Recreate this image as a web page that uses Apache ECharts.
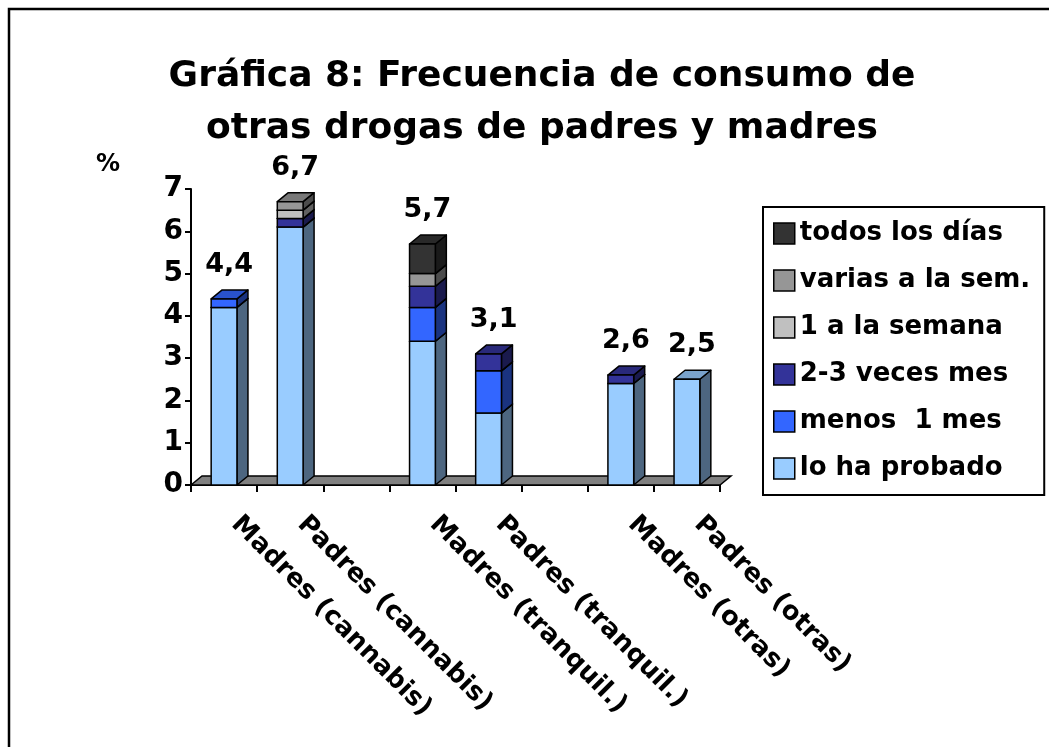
<!DOCTYPE html>
<html>
<head>
<meta charset="utf-8">
<script src="https://cdn.jsdelivr.net/npm/echarts@6/dist/echarts.min.js"></script>
<style>
  html, body { margin: 0; padding: 0; background: #fff; }
  #chart { width: 1049px; height: 747px; }
</style>
</head>
<body>
<div id="chart"></div>
<script>
const categories = [
  "Madres (cannabis)", "Padres (cannabis)", "",
  "Madres (tranquil.)", "Padres (tranquil.)", "",
  "Madres (otras)", "Padres (otras)"
];

// stacked from bottom to top
const loHaProbado = [4.2, 6.1, null, 3.4, 1.7, null, 2.4, 2.5];
const menos1Mes = [0.2, 0, null, 0.8, 1.0, null, 0, 0];
const dosTresVecesMes = [0, 0.2, null, 0.5, 0.4, null, 0.2, 0];
const unaSemana = [0, 0.2, null, 0, 0, null, 0, 0];
const variasSemana = [0, 0.2, null, 0.3, 0, null, 0, 0];
const todosLosDias = [0, 0, null, 0.7, 0, null, 0, 0];

const totals = [4.4, 6.7, null, 5.7, 3.1, null, 2.6, 2.5];
const yTicks = [0, 1, 2, 3, 4, 5, 6, 7];

const FONT = "DejaVu Sans";
const DX = 11, DY = 9;

const layers = [
  { name: "lo ha probado", data: loHaProbado, color: "#99ccff" },
  { name: "menos  1 mes", data: menos1Mes, color: "#3366ff" },
  { name: "2-3 veces mes", data: dosTresVecesMes, color: "#333399" },
  { name: "1 a la semana", data: unaSemana, color: "#c0c0c0" },
  { name: "varias a la sem.", data: variasSemana, color: "#969696" },
  { name: "todos los días", data: todosLosDias, color: "#333333" }
];

const shade = (hex, f) => {
  const n = parseInt(hex.slice(1), 16);
  const r = Math.round(((n >> 16) & 255) * f);
  const g = Math.round(((n >> 8) & 255) * f);
  const b = Math.round((n & 255) * f);
  return "rgb(" + r + "," + g + "," + b + ")";
};

const renderBar = (color) => (params, api) => {
  const p0 = api.coord([api.value(0), api.value(1)]);
  const p1 = api.coord([api.value(0), api.value(2)]);
  const w = api.size([1, 0])[0] * 0.39;
  const xl = p0[0] - w / 2, xr = p0[0] + w / 2;
  const stroke = { stroke: "#000", lineWidth: 1.5, lineJoin: "round" };
  return {
    type: "group",
    children: [
      { type: "polygon", shape: { points: [[xr, p0[1]], [xr + DX, p0[1] - DY], [xr + DX, p1[1] - DY], [xr, p1[1]]] },
        style: Object.assign({ fill: shade(color, 0.5) }, stroke) },
      { type: "polygon", shape: { points: [[xl, p1[1]], [xl + DX, p1[1] - DY], [xr + DX, p1[1] - DY], [xr, p1[1]]] },
        style: Object.assign({ fill: shade(color, 0.8) }, stroke) },
      { type: "rect", shape: { x: xl, y: p1[1], width: w, height: p0[1] - p1[1] },
        style: Object.assign({ fill: color }, stroke) }
    ]
  };
};

const series = [];

// floor of the 3D plot
series.push({
  name: "floor",
  type: "custom",
  z: 1,
  silent: true,
  data: [[0, 0]],
  renderItem: (params, api) => {
    const cs = params.coordSys;
    const yb = cs.y + cs.height;
    return {
      type: "polygon",
      shape: { points: [[cs.x, yb], [cs.x + DX, yb - DY], [cs.x + cs.width + DX, yb - DY], [cs.x + cs.width, yb]] },
      style: { fill: "#808080", stroke: "#000", lineWidth: 1.5 }
    };
  }
});

const base = categories.map(() => 0);
layers.forEach((layer) => {
  const items = [];
  layer.data.forEach((v, i) => {
    if (v) {
      items.push([i, base[i], base[i] + v]);
      base[i] += v;
    }
  });
  series.push({
    name: layer.name,
    type: "custom",
    z: 3,
    itemStyle: { color: layer.color },
    encode: { x: 0, y: [1, 2] },
    data: items,
    renderItem: renderBar(layer.color)
  });
});

series.push({
  name: "totals",
  type: "custom",
  z: 4,
  silent: true,
  data: totals.map((t, i) => [i, t]).filter((d) => d[1] != null),
  encode: { x: 0, y: 1 },
  renderItem: (params, api) => {
    const p = api.coord([api.value(0), api.value(1)]);
    return {
      type: "text",
      style: {
        x: p[0] + 5, y: p[1] - 34,
        text: api.value(1).toFixed(1).replace(".", ","),
        fill: "#000", font: "bold 27px '" + FONT + "'",
        align: "center", verticalAlign: "middle"
      }
    };
  }
});

const chart = echarts.init(document.getElementById("chart"));
chart.setOption({
  animation: false,
  backgroundColor: "#fff",
  textStyle: { fontFamily: FONT },
  graphic: [{
    type: "rect",
    shape: { x: 9, y: 9, width: 1200, height: 900 },
    style: { fill: null, stroke: "#000", lineWidth: 2.5 }
  }],
  title: {
    text: "Gráfica 8: Frecuencia de consumo de\notras drogas de padres y madres",
    left: 537,
    top: 46,
    textAlign: "center",
    textStyle: { fontFamily: FONT, fontSize: 36, fontWeight: "bold", color: "#000", lineHeight: 52, align: "center" }
  },
  legend: {
    data: layers.map((l) => l.name).reverse(),
    orient: "vertical",
    left: 763,
    top: 207,
    padding: [11, 14, 11, 10],
    itemGap: 16,
    itemWidth: 21,
    itemHeight: 21,
    itemTextGap: 12,
    icon: "rect",
    borderColor: "#000",
    borderWidth: 2,
    itemStyle: { borderColor: "#000", borderWidth: 1.5 },
    textStyle: { fontFamily: FONT, fontSize: 26, fontWeight: "bold", color: "#000", lineHeight: 31 }
  },
  grid: { left: 191, right: 329, top: 189, bottom: 262 },
  xAxis: {
    type: "category",
    data: categories,
    boundaryGap: true,
    axisLine: { lineStyle: { color: "#000", width: 2 } },
    axisTick: { show: true, interval: 0, length: 7, lineStyle: { color: "#000", width: 2 } },
    axisLabel: {
      interval: 0, rotate: -45, margin: 24,
      padding: [0, 0, 0, 16],
      fontFamily: FONT, fontSize: 26, fontWeight: "bold", color: "#000"
    },
    splitLine: { show: false }
  },
  yAxis: {
    type: "value",
    min: yTicks[0],
    max: yTicks[yTicks.length - 1],
    interval: 1,
    name: "%",
    nameLocation: "end",
    nameGap: 12,
    nameTextStyle: { fontFamily: FONT, fontSize: 24, fontWeight: "bold", color: "#000", padding: [0, 166, 0, 0] },
    axisLine: { show: true, lineStyle: { color: "#000", width: 2 } },
    axisTick: { show: true, length: 6, lineStyle: { color: "#000", width: 2 } },
    axisLabel: { margin: 8, fontFamily: FONT, fontSize: 28, fontWeight: "bold", color: "#000" },
    splitLine: { show: false }
  },
  series: series
});
</script>
</body>
</html>
